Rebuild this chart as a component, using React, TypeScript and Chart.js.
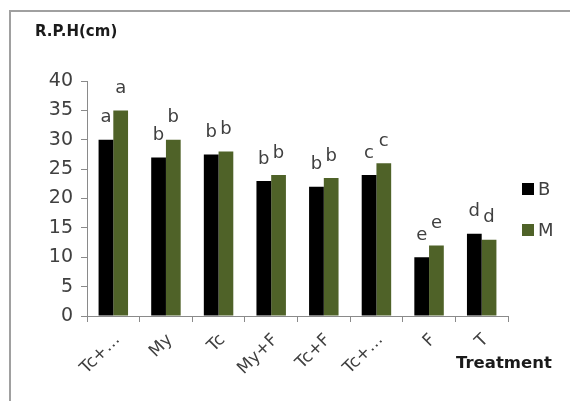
import React, { useEffect, useRef } from "react";
import { Chart, registerables } from "chart.js";

Chart.register(...registerables);

const categories = ["Tc+…", "My", "Tc", "My+F", "Tc+F", "Tc+…", "F", "T"];
const seriesNames = ["B", "M"];
const seriesB = [30, 27, 27.5, 23, 22, 24, 10, 14];
const seriesM = [35, 30, 28, 24, 23.5, 26, 12, 13];
const lettersB = ["a", "b", "b", "b", "b", "c", "e", "d"];
const lettersM = ["a", "b", "b", "b", "b", "c", "e", "d"];
const yMin = 0;
const yMax = 40;
const yStep = 5;
const yTitle = "R.P.H(cm)";
const xTitle = "Treatment";

const colors = ["#000000", "#4F6228"];
const FONT = "'DejaVu Sans', sans-serif";
const TEXT = "#404040";
const AXIS = "#8a8a8a";

export default function App() {
  const ref = useRef<HTMLCanvasElement>(null);

  useEffect(() => {
    document.body.style.margin = "0";
    const canvas = ref.current;
    if (!canvas) return;
    const letters = [lettersB, lettersM];

    const deco = {
      id: "deco",
      beforeDraw(chart: any) {
        const c = chart.ctx;
        c.save();
        c.strokeStyle = "#a0a0a0";
        c.lineWidth = 2;
        c.beginPath();
        c.moveTo(10, 401);
        c.lineTo(10, 11);
        c.lineTo(572, 11);
        c.stroke();
        c.restore();
      },
      afterDatasetsDraw(chart: any) {
        const c = chart.ctx;
        c.save();
        // letters above bars
        c.font = `18px ${FONT}`;
        c.fillStyle = TEXT;
        c.textAlign = "center";
        c.textBaseline = "middle";
        chart.data.datasets.forEach((ds: any, di: number) => {
          const meta = chart.getDatasetMeta(di);
          meta.data.forEach((bar: any, i: number) => {
            c.fillText(letters[di][i], bar.x, bar.y - 22);
          });
        });
        // legend
        const legendY = [189, 230];
        c.textAlign = "left";
        c.font = `18px ${FONT}`;
        seriesNames.forEach((name, i) => {
          c.fillStyle = colors[i];
          c.fillRect(522, legendY[i] - 6, 12, 12);
          c.fillStyle = TEXT;
          c.fillText(name, 538, legendY[i] + 1);
        });
        // titles
        c.fillStyle = "#1a1a1a";
        c.font = `bold 15px ${FONT}`;
        c.textBaseline = "alphabetic";
        c.fillText(yTitle, 35, 36);
        c.font = `bold 16.5px ${FONT}`;
        c.fillText(xTitle, 456, 368);
        c.restore();
      },
    };

    const chart = new Chart(canvas, {
      type: "bar",
      data: {
        labels: categories,
        datasets: [
          { label: seriesNames[0], data: seriesB, backgroundColor: colors[0] },
          { label: seriesNames[1], data: seriesM, backgroundColor: colors[1] },
        ],
      },
      options: {
        animation: false,
        responsive: true,
        maintainAspectRatio: false,
        layout: { padding: { left: 0, top: 81, right: 62, bottom: 0 } },
        datasets: { bar: { categoryPercentage: 0.56, barPercentage: 1.0 } },
        plugins: { legend: { display: false }, tooltip: { enabled: false }, title: { display: false } },
        scales: {
          x: {
            grid: { drawOnChartArea: false, drawTicks: true, tickLength: 6, color: AXIS, offset: true },
            border: { color: AXIS, width: 1 },
            ticks: {
              color: TEXT,
              font: { family: FONT, size: 17 },
              minRotation: 45,
              maxRotation: 45,
              autoSkip: false,
              padding: 8,
              labelOffset: 4,
            },
            afterFit(scale: any) {
              scale.height = 85;
            },
          },
          y: {
            min: yMin,
            max: yMax,
            grid: { drawOnChartArea: false, drawTicks: true, tickLength: 6, color: AXIS },
            border: { color: AXIS, width: 1 },
            ticks: {
              stepSize: yStep,
              color: TEXT,
              font: { family: FONT, size: 19 },
              padding: 8,
            },
            afterFit(scale: any) {
              scale.width = 87;
            },
          },
        },
      },
      plugins: [deco],
    });
    return () => chart.destroy();
  }, []);

  return (
    <div style={{ position: "relative", width: 570, height: 401, background: "#fff" }}>
      <canvas ref={ref} />
    </div>
  );
}
